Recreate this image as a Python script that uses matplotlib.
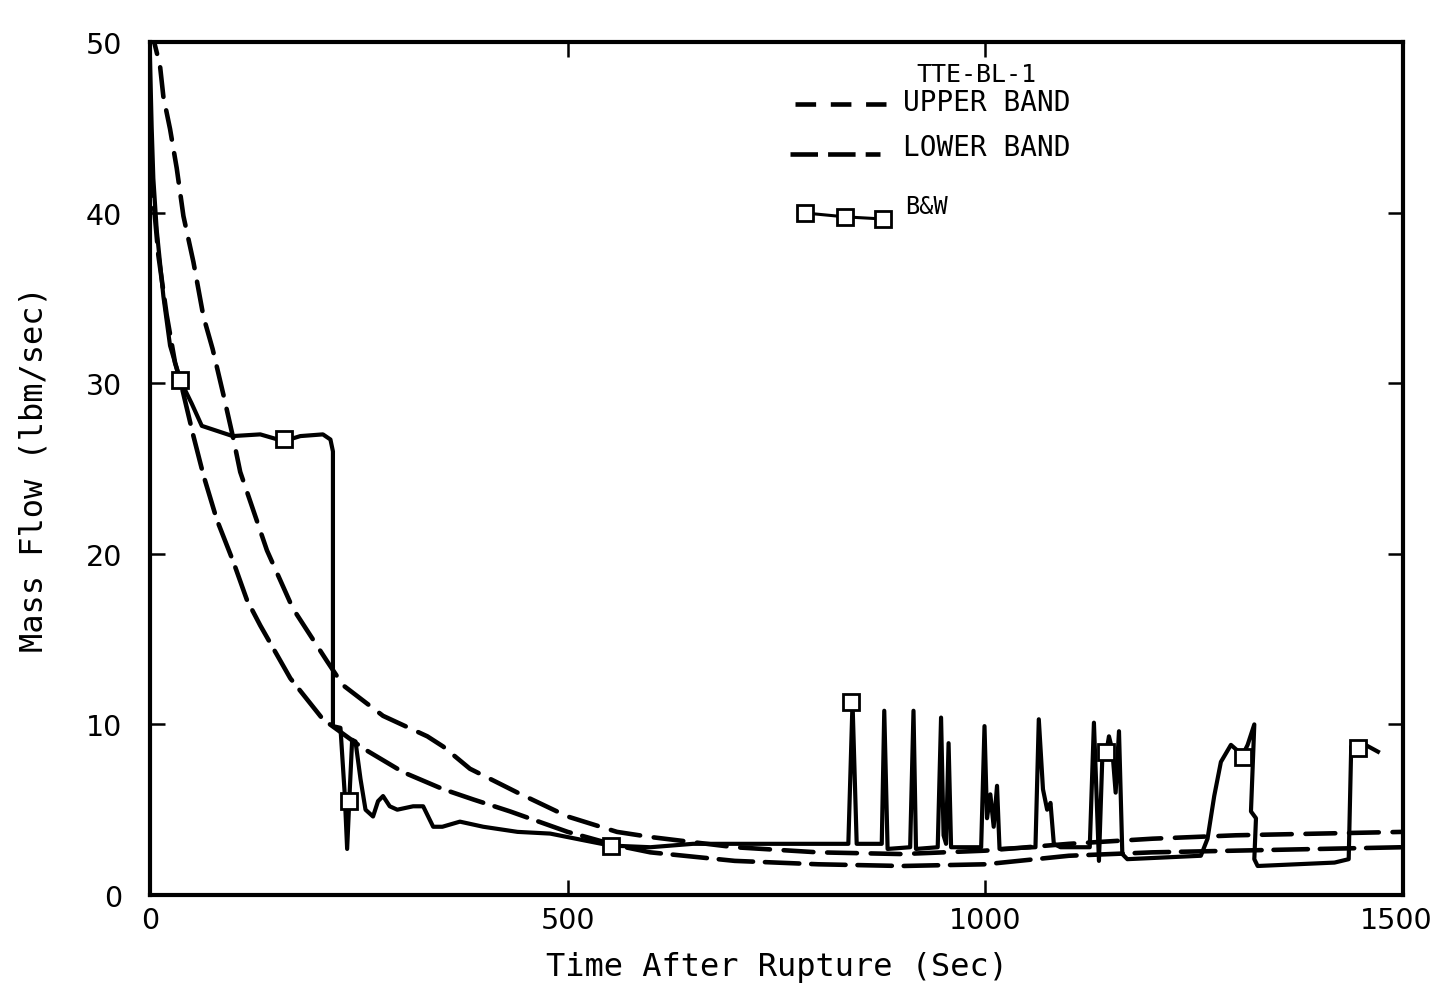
import matplotlib
matplotlib.use("Agg")
import matplotlib.pyplot as plt
from matplotlib.transforms import ScaledTranslation

# ---- data ----
upper_t = [0, 5, 12, 16, 24, 32, 40, 52, 64, 75, 88, 100, 108, 140, 171, 212, 231, 279,
           332, 351, 383, 440, 500, 559, 599, 700, 800, 900, 1000, 1100, 1200, 1300, 1400, 1500]
upper_v = [51.0, 50.0, 48.6, 46.8, 44.9, 42.6, 39.8, 37.1, 33.9, 32.0, 29.3, 26.7, 24.8, 20.2,
           16.8, 13.7, 12.3, 10.5, 9.3, 8.7, 7.4, 6.0, 4.6, 3.7, 3.4, 2.8, 2.5, 2.4, 2.6,
           3.0, 3.3, 3.5, 3.6, 3.7]

lower_t = [0, 10, 20, 30, 36, 52, 64, 80, 100, 116, 132, 168, 207, 224, 255, 303, 351, 387,
           431, 500, 559, 599, 700, 800, 900, 1000, 1100, 1200, 1300, 1400, 1500]
lower_v = [43.0, 37.5, 34.0, 31.2, 30.2, 26.9, 24.6, 22.0, 19.5, 17.3, 15.8, 12.7, 10.3, 9.7,
           8.6, 7.2, 6.2, 5.6, 4.9, 3.7, 2.9, 2.5, 2.0, 1.8, 1.7, 1.8, 2.3, 2.5, 2.6, 2.7, 2.8]

bw_t = [0, 2, 4, 8, 16, 24, 36, 50, 62, 99, 132, 160, 180, 207, 216, 219, 219, 228, 233, 236,
        239, 242, 246, 252, 258, 267, 273, 279, 287, 296, 315, 327, 333, 339, 350, 371, 399,
        440, 479, 520, 551, 599, 650, 700, 760, 800, 836,
        841, 846, 876, 879, 883, 910, 914, 917, 943, 947, 950, 953, 956, 959, 995, 999, 1002,
        1006, 1010, 1014, 1017, 1060, 1064, 1069, 1074, 1078, 1082, 1090, 1125, 1130, 1136,
        1140, 1146, 1148, 1152, 1156, 1160, 1164, 1170, 1258, 1266, 1274, 1282, 1294, 1308,
        1314, 1322, 1318, 1324, 1322, 1326, 1418, 1435, 1438, 1447, 1455, 1470]
bw_v = [49.0, 45.0, 42.0, 39.0, 35.1, 32.2, 30.2, 28.8, 27.5, 26.9, 27.0, 26.6, 26.9, 27.0,
        26.7, 26.0, 9.9, 9.8, 6.0, 2.7, 6.0, 9.1, 9.0, 6.8, 5.0, 4.6, 5.5, 5.8, 5.2, 5.0, 5.2,
        5.2, 4.6, 4.0, 4.0, 4.3, 4.0, 3.7, 3.6, 3.2, 2.9, 2.8, 3.0, 3.0, 3.0, 3.0, 3.0,
        11.3, 3.0, 3.0, 10.8, 2.7, 2.8, 10.8, 2.7, 2.8, 10.4, 3.5, 3.0, 8.9, 2.8, 2.8, 9.9,
        4.5, 5.9, 4.0, 6.4, 2.7, 2.8, 10.3, 6.2, 5.0, 5.4, 3.0, 2.8, 2.8, 10.1, 2.0, 8.0, 8.7,
        9.3, 8.5, 6.0, 9.6, 2.4, 2.1, 2.3, 3.3, 5.8, 7.8, 8.8, 8.2, 8.8, 10.0, 4.9, 4.5, 2.1,
        1.7, 1.9, 2.1, 8.7, 8.6, 8.8, 8.4]

bw_mark_t = [36, 160, 238, 552, 839, 1145, 1308, 1446]
bw_mark_v = [30.2, 26.7, 5.5, 2.9, 11.3, 8.4, 8.1, 8.6]

x_ticks = [0, 500, 1000, 1500]
y_ticks = [0, 10, 20, 30, 40, 50]

# ---- figure ----
fig = plt.figure(figsize=(14.34, 9.87), dpi=100)
ax = fig.add_axes([150 / 1434, 91 / 987, 1253 / 1434, 853 / 987])

lw_band = 3.3
ax.plot(upper_t, upper_v, color="black", lw=lw_band, dashes=(6.5, 3.0), dash_capstyle="round")
ax.plot(lower_t, lower_v, color="black", lw=lw_band, dashes=(7.5, 2.6), dash_capstyle="round")
ax.plot(bw_t, bw_v, color="black", lw=3.0, solid_joinstyle="round")
ax.plot(bw_mark_t, bw_mark_v, ls="none", marker="s", ms=11, mfc="white", mec="black", mew=2)

ax.set_xlim(0, 1500)
ax.set_ylim(0, 50)
ax.set_xticks(x_ticks)
ax.set_yticks(y_ticks)
ax.set_xticklabels([str(v) for v in x_ticks], fontsize=20.5)
ax.set_yticklabels([str(v) for v in y_ticks], fontsize=20.5)
ax.tick_params(direction="in", length=11, width=1.8, top=True, right=True)
ax.tick_params(axis="x", pad=8)
ax.tick_params(axis="y", pad=20)
for s in ax.spines.values():
    s.set_linewidth(3)

# keep the last x tick label inside the canvas (as in the reference)
lbl = ax.get_xticklabels()[-1]
lbl.set_transform(lbl.get_transform() + ScaledTranslation(-7 / 100, 0, fig.dpi_scale_trans))

mono = "DejaVu Sans Mono"
ax.set_xlabel("Time After Rupture (Sec)", fontsize=23, family=mono, labelpad=12)
ax.set_ylabel("Mass Flow (lbm/sec)", fontsize=23, family=mono, labelpad=26)

# ---- legend drawn in axes fraction ----
tr = ax.transAxes
ax.text(0.612, 0.9625, "TTE-BL-1", transform=tr, fontsize=18, family=mono, va="center", ha="left")
ax.plot([0.515, 0.587], [0.927, 0.927], transform=tr, color="black", lw=lw_band, dashes=(4.5, 3.2))
ax.text(0.601, 0.9297, "UPPER BAND", transform=tr, fontsize=20, family=mono, va="center", ha="left")
ax.plot([0.511, 0.583], [0.8687, 0.8687], transform=tr, color="black", lw=lw_band, dashes=(6.0, 2.2))
ax.text(0.601, 0.877, "LOWER BAND", transform=tr, fontsize=20, family=mono, va="center", ha="left")
ax.plot([0.523, 0.555, 0.585], [0.7995, 0.795, 0.7925], transform=tr, color="black", lw=2.2,
        marker="s", ms=11, mfc="white", mec="black", mew=2)
ax.text(0.6025, 0.8077, "B&W", transform=tr, fontsize=17, family=mono, va="center", ha="left")

fig.savefig("out.png", dpi=100)
